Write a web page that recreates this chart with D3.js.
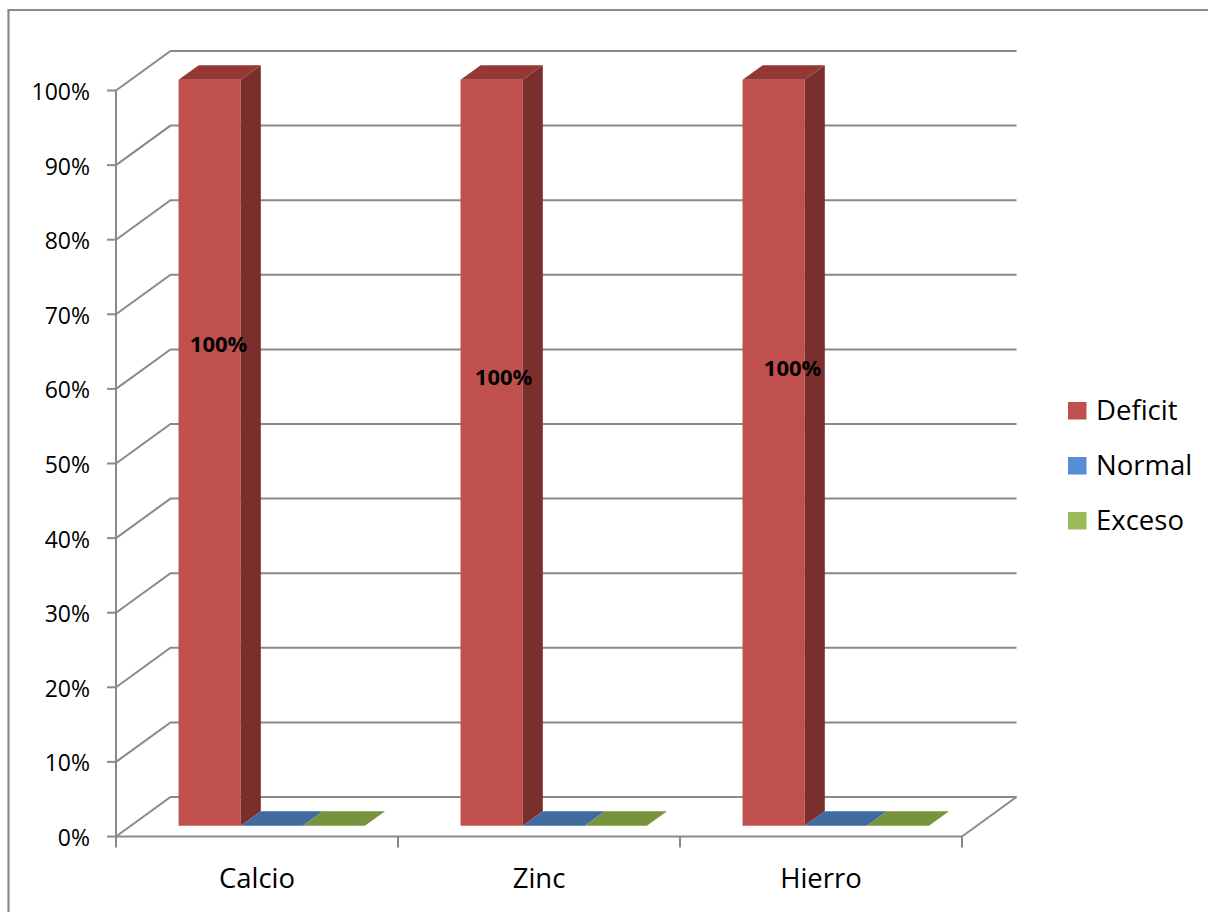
<!DOCTYPE html>
<html>
<head>
<meta charset="utf-8">
<script src="https://cdn.jsdelivr.net/npm/d3@7"></script>
<style>
  html, body { margin: 0; padding: 0; background: #fff; }
  svg { display: block; }
  text { font-family: "Open Sans", Lato, "Liberation Sans", sans-serif; fill: #000; }
</style>
</head>
<body>
<svg id="chart" width="1208" height="912"></svg>
<script>
// ---- data ----
const categories = ["Calcio", "Zinc", "Hierro"];
const seriesNames = ["Deficit", "Normal", "Exceso"];
const deficitValues = [1.00, 1.00, 1.00];
const normalValues = [0.00, 0.00, 0.00];
const excesoValues = [0.00, 0.00, 0.00];
const yTicks = [0, 0.1, 0.2, 0.3, 0.4, 0.5, 0.6, 0.7, 0.8, 0.9, 1.0];
const dataLabels = ["100%", "100%", "100%"];

const seriesValues = [deficitValues, normalValues, excesoValues];

// ---- styles / layout ----
const colors = {
  Deficit: { front: "#C0504D", side: "#7B2F2D", top: "#953735", legend: "#C0504D" },
  Normal:  { front: "#4F81BD", side: "#2F5180", top: "#3F6BA0", legend: "#558ED5" },
  Exceso:  { front: "#9BBB59", side: "#5F7A2E", top: "#77933C", legend: "#9BBB59" }
};
const gridColor = "#8A8A8A";
const DX = 54.5, DY = -39.5;         // full depth offset of the back wall
const z0 = 0.27, z1 = 0.64;          // bar depth range
// label placement tweaks (drawing, not data)
const labelNudge = [{ dx: 9, v: 0.6456 }, { dx: 12, v: 0.601 }, { dx: 19, v: 0.6137 }];

const svg = d3.select("#chart");

const y = d3.scaleLinear().domain([0, 1]).range([836.5, 90.5]);
const x = d3.scaleBand().domain(categories).range([116, 962]).padding(0);
const xs = d3.scaleBand().domain(seriesNames).range([0, x.bandwidth()]).paddingInner(0).paddingOuter(0.77);

const P = (sx, v, z) => [sx + z * DX, y(v) + z * DY];

// outer frame
svg.append("path")
  .attr("d", "M8.5,912 L8.5,10 L1208,10")
  .attr("fill", "none").attr("stroke", gridColor).attr("stroke-width", 2.2);

const g = svg.append("g");

// back-wall gridlines + left wall diagonals
yTicks.forEach(t => {
  const a = P(x.range()[0], t, 0), b = P(x.range()[0], t, 1), c = P(x.range()[1], t, 1);
  g.append("path")
    .attr("d", `M${a[0]},${a[1]} L${b[0]},${b[1]} L${c[0]},${c[1]}`)
    .attr("fill", "none").attr("stroke", gridColor).attr("stroke-width", 2);
});
// floor right edge
{
  const a = P(x.range()[1], 0, 0), b = P(x.range()[1], 0, 1);
  g.append("line").attr("x1", a[0]).attr("y1", a[1]).attr("x2", b[0]).attr("y2", b[1])
    .attr("stroke", gridColor).attr("stroke-width", 2);
}

// front axes
g.append("line").attr("x1", 116).attr("x2", 116).attr("y1", y(1)).attr("y2", y(0))
  .attr("stroke", gridColor).attr("stroke-width", 2);
g.append("line").attr("x1", x.range()[0]).attr("x2", x.range()[1]).attr("y1", y(0)).attr("y2", y(0))
  .attr("stroke", gridColor).attr("stroke-width", 2);

// y ticks and labels
yTicks.forEach(t => {
  g.append("line").attr("x1", 107).attr("x2", 116).attr("y1", y(t)).attr("y2", y(t))
    .attr("stroke", gridColor).attr("stroke-width", 2);
  g.append("text").attr("x", 90).attr("y", y(t) + 9.5)
    .attr("text-anchor", "end").attr("font-size", 23).text(d3.format(".0%")(t));
});
// category ticks
const catEdges = categories.map(c => x(c)).concat([x.range()[1]]);
catEdges.forEach(e => {
  g.append("line").attr("x1", e).attr("x2", e).attr("y1", y(0)).attr("y2", y(0) + 11)
    .attr("stroke", gridColor).attr("stroke-width", 2);
});
categories.forEach(c => {
  g.append("text").attr("x", x(c) + x.bandwidth() / 2).attr("y", 888)
    .attr("text-anchor", "middle").attr("font-size", 27.5).text(c);
});

// bars
const poly = pts => "M" + pts.map(p => p.join(",")).join("L") + "Z";
categories.forEach((c, ci) => {
  seriesNames.forEach((s, si) => {
    const v = seriesValues[si][ci];
    const xa = x(c) + xs(s), xb = xa + xs.bandwidth();
    const col = colors[s];
    if (v > 0) {
      g.append("path").attr("d", poly([P(xa, 0, z0), P(xb, 0, z0), P(xb, v, z0), P(xa, v, z0)]))
        .attr("fill", col.front);
      g.append("path").attr("d", poly([P(xb, 0, z0), P(xb, 0, z1), P(xb, v, z1), P(xb, v, z0)]))
        .attr("fill", col.side);
    }
    g.append("path").attr("d", poly([P(xa, v, z0), P(xb, v, z0), P(xb, v, z1), P(xa, v, z1)]))
      .attr("fill", col.top);
  });
  // data label
  const xa = x(c) + xs(seriesNames[0]);
  const n = labelNudge[ci];
  const p = P(xa + xs.bandwidth() / 2 + n.dx, n.v, z0);
  g.append("text").attr("x", p[0]).attr("y", p[1] + 7.8)
    .attr("text-anchor", "middle").attr("font-size", 22).attr("font-weight", "bold")
    .text(dataLabels[ci]);
});

// legend
const legendY = [410.5, 465.5, 520.5];
seriesNames.forEach((s, i) => {
  svg.append("rect").attr("x", 1068).attr("y", legendY[i] - 8.5).attr("width", 18.5).attr("height", 17.5)
    .attr("fill", colors[s].legend);
  svg.append("text").attr("x", 1096).attr("y", legendY[i] + 9.5)
    .attr("font-size", 27.5).text(s);
});
</script>
</body>
</html>
